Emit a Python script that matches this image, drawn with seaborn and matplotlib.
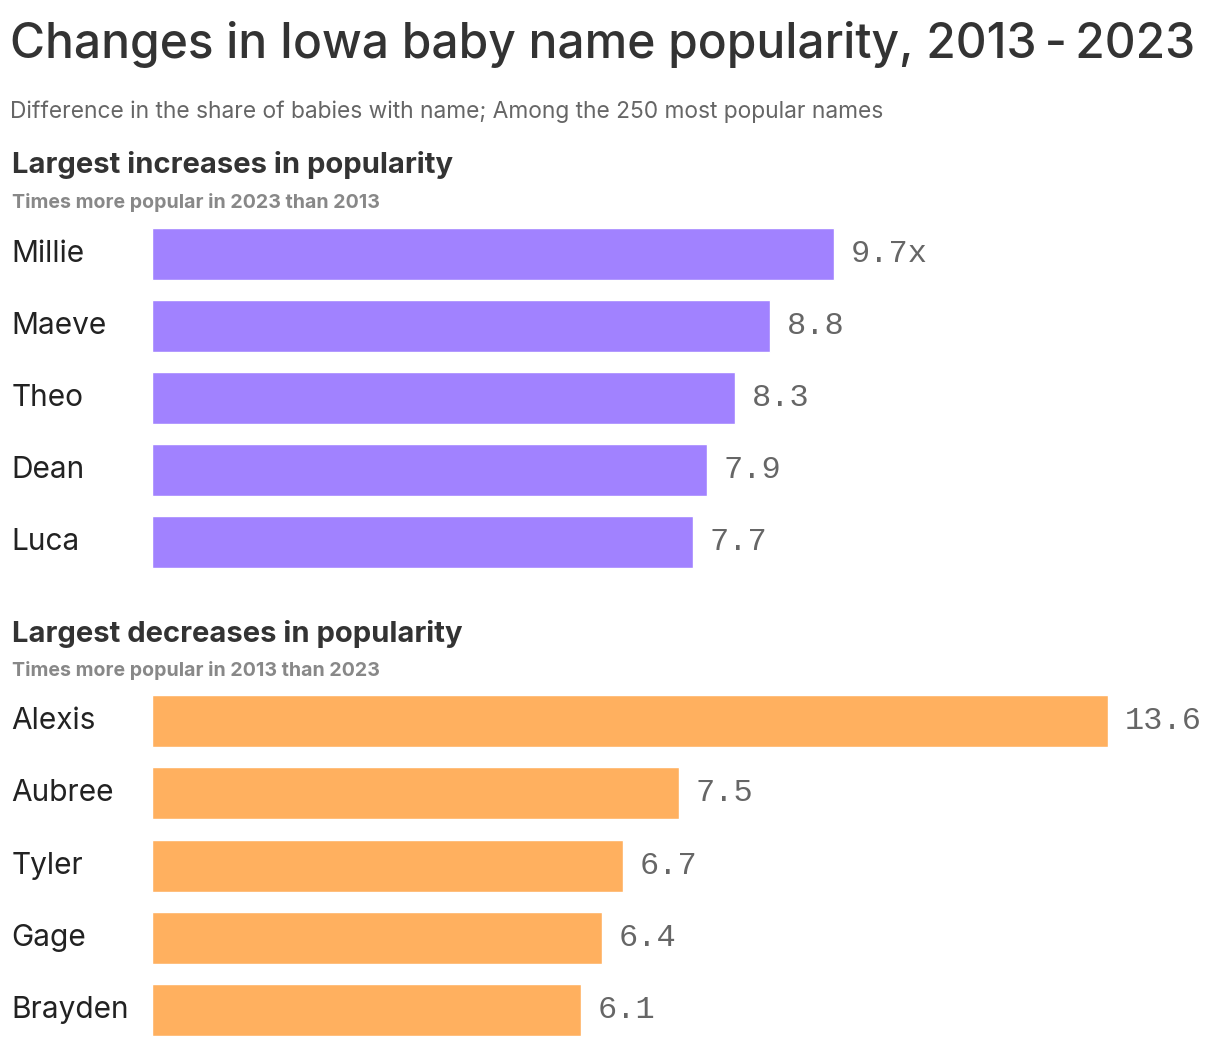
import matplotlib
matplotlib.use("Agg")
import matplotlib.pyplot as plt
import seaborn as sns

# data
up_names = ['Millie', 'Maeve', 'Theo', 'Dean', 'Luca']
up_values = [9.7, 8.8, 8.3, 7.9, 7.7]
down_names = ['Alexis', 'Aubree', 'Tyler', 'Gage', 'Brayden']
down_values = [13.6, 7.5, 6.7, 6.4, 6.1]

purple = '#A182FF'
orange = '#FFB05F'

sns.set_style("white")
plt.rcParams['font.family'] = ['Inter', 'DejaVu Sans']

fig = plt.figure(figsize=(12.2, 10.46), dpi=100)

fig.text(0.008, 0.957, 'Changes in Iowa baby name popularity, 2013\u2009-\u20092023',
         fontsize=34.5, fontweight='medium', color='#333333', va='center', ha='left')
fig.text(0.008, 0.893, 'Difference in the share of babies with name; Among the 250 most popular names',
         fontsize=16.4, color='#666666', va='center', ha='left')


def panel(rect, names, values, color, head, sub, head_y, sub_y, first_suffix):
    ax = fig.add_axes(rect)
    sns.barplot(x=values, y=names, color=color, saturation=1, width=0.72, ax=ax)
    ax.set_xlim(0, 15)
    ax.set_xlabel('')
    ax.set_ylabel('')
    ax.set_xticks([])
    sns.despine(ax=ax, left=True, bottom=True)
    ax.tick_params(axis='y', length=0, pad=101, labelsize=21.5, labelcolor='#222222')
    for lab in ax.get_yticklabels():
        lab.set_horizontalalignment('left')
        lab.set_verticalalignment('center')
    labels = [f'{v:.1f}' for v in values]
    if first_suffix:
        labels[0] = labels[0] + 'x'
    ax.bar_label(ax.containers[0], labels=labels, padding=12,
                 fontsize=23, color='#666666', family='Liberation Mono')
    fig.text(0.01, head_y, head, fontsize=21, fontweight='bold', color='#333333',
             va='center', ha='left')
    fig.text(0.01, sub_y, sub, fontsize=14.1, fontweight='bold', color='#888888',
             va='center', ha='left')
    return ax


panel([0.1246, 0.4474, 0.864, 0.3442], up_names, up_values, purple,
      'Largest increases in popularity', 'Times more popular in 2023 than 2013',
      1 - 165 / 1046, 1 - 203 / 1046, True)
panel([0.1246, 0.0, 0.864, 0.3451], down_names, down_values, orange,
      'Largest decreases in popularity', 'Times more popular in 2013 than 2023',
      1 - 634 / 1046, 1 - 670 / 1046, False)

fig.savefig('out.png', dpi=100)
